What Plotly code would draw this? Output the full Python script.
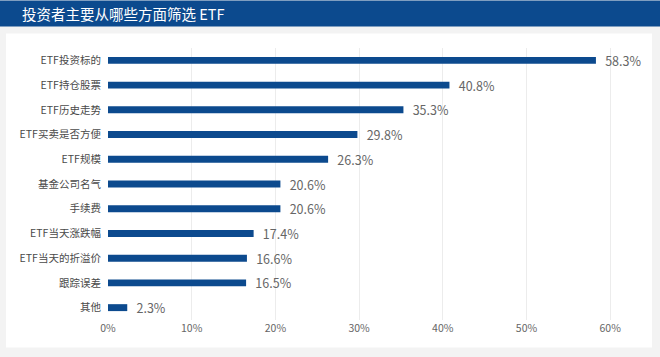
import plotly.graph_objects as go

categories = ["ETF投资标的", "ETF持仓股票", "ETF历史走势", "ETF买卖是否方便", "ETF规模",
              "基金公司名气", "手续费", "ETF当天涨跌幅", "ETF当天的折溢价", "跟踪误差", "其他"]
values = [58.3, 40.8, 35.3, 29.8, 26.3, 20.6, 20.6, 17.4, 16.6, 16.5, 2.3]
tick_vals = [0, 10, 20, 30, 40, 50, 60]
tick_text = ["0%", "10%", "20%", "30%", "40%", "50%", "60%"]
title = "投资者主要从哪些方面筛选 ETF"

W, H = 660, 357
L, R = 108, 8
T, B = 47.6, 36.6
pw, ph = W - L - R, H - T - B

def px_x(p):
    return (p - L) / pw

def px_y(p):
    return (H - B - p) / ph

navy = "#0c4a8e"
font = "Noto Sans CJK SC, Noto Sans, sans-serif"

fig = go.Figure(go.Bar(
    x=values, y=categories, orientation="h",
    marker=dict(color=navy, line=dict(width=0)),
    width=0.28,
    text=[f"\u2002{v}%" for v in values], textposition="outside",
    textfont=dict(size=12.5, color="#666666", family=font),
    cliponaxis=False, constraintext="none",
))

fig.update_layout(
    width=W, height=H,
    margin=dict(l=L, r=R, t=T, b=B, autoexpand=False),
    paper_bgcolor="#f3f3f3", plot_bgcolor="white",
    font=dict(family=font),
    showlegend=False,
    xaxis=dict(range=[0, 65], tickvals=tick_vals, ticktext=tick_text,
               showgrid=True, gridcolor="#ececec", gridwidth=1, zeroline=False,
               tickfont=dict(size=10.5, color="#666"), ticks="", showline=False,
               automargin=False, fixedrange=True),
    yaxis=dict(autorange="reversed", tickfont=dict(size=10.5, color="#4a4a4a"),
               ticks="outside", ticklen=4, tickcolor="rgba(0,0,0,0)",
               showgrid=False, zeroline=False, showline=False, automargin=False),
    shapes=[
        dict(type="rect", xref="paper", yref="paper", layer="below",
             x0=px_x(6), x1=px_x(652), y0=px_y(348), y1=px_y(33),
             fillcolor="white", line=dict(width=0)),
        dict(type="rect", xref="paper", yref="paper", layer="above",
             x0=px_x(0), x1=px_x(660), y0=px_y(26), y1=px_y(0),
             fillcolor=navy, line=dict(width=0)),
    ],
    annotations=[
        dict(text=title, xref="paper", yref="paper", x=px_x(20), y=px_y(13),
             xanchor="left", yanchor="middle", showarrow=False,
             font=dict(size=14.5, color="white", family=font)),
    ],
)

fig.write_html("out.html", config={"displayModeBar": False},
               post_script="document.body.style.margin='0';document.body.style.padding='0';")
